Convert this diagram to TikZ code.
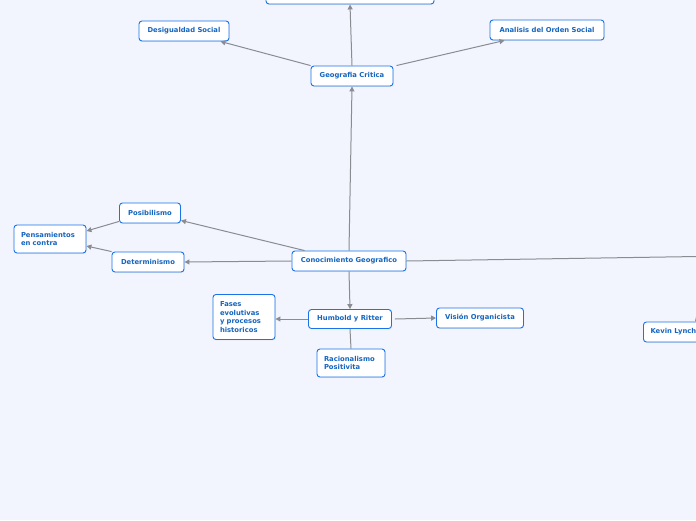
\documentclass[tikz,border=0pt]{standalone}
\usepackage{fontspec}
\setmainfont{DejaVu Sans}
\usetikzlibrary{arrows.meta,shadows}
\definecolor{mapbg}{HTML}{F2F5FE}
\definecolor{mapblue}{HTML}{1A73E8}
\definecolor{maptext}{HTML}{1565C0}
\definecolor{mapline}{HTML}{8A8C92}

\begin{document}
\begin{tikzpicture}[x=1pt, y=-1pt,
    idea/.style={draw=mapblue, fill=white, rounded corners=3pt, line width=0.9pt,
      font=\fontsize{6.8}{8.5}\selectfont\bfseries, text=maptext, inner sep=2pt,
      drop shadow={opacity=0.15, shadow xshift=0.6pt, shadow yshift=-0.8pt}},
    link/.style={draw=mapline, line width=1pt, -{Triangle[length=5pt,width=5pt]}}]
    \fill[mapbg] (0,0) rectangle (696,520);
    \useasboundingbox (0,0) rectangle (696,520);

    % top branch
    \node[idea, minimum width=168pt, minimum height=22pt] (mapa) at (350,-7) {};
    \node[idea, minimum width=90pt, minimum height=20pt] (desigualdad) at (184,31) {Desigualdad Social};
    \node[idea, minimum width=114pt, minimum height=20pt] (orden) at (547,30) {Analisis del Orden Social};
    \node[idea, minimum width=82pt, minimum height=20pt] (critica) at (352,76) {Geografia Critica};

    % centre and left side
    \node[idea, minimum width=114pt, minimum height=20pt] (conocimiento) at (349,261) {Conocimiento Geografico};
    \node[idea, minimum width=61pt, minimum height=20pt] (posibilismo) at (150,213) {Posibilismo};
    \node[idea, minimum width=72pt, minimum height=20pt] (determinismo) at (148,262) {Determinismo};
    \node[idea, text width=58pt, inner xsep=7pt, minimum height=28pt, align=left] (pensamientos) at (50,239) {Pensamientos\\en contra};

    % lower branch
    \node[idea, minimum width=83pt, minimum height=19pt] (humbold) at (350,319) {Humbold y Ritter};
    \node[idea, text width=48pt, inner xsep=7pt, minimum height=45pt, align=left] (fases) at (244,317) {Fases\\evolutivas\\y procesos\\historicos};
    \node[idea, minimum width=87pt, minimum height=20pt] (organicista) at (480,318) {Visión Organicista};
    \node[idea, text width=54pt, inner xsep=7pt, minimum height=28pt, align=left] (racionalismo) at (351,363) {Racionalismo\\Positivita};
    \node[idea, minimum width=60pt, minimum height=20pt, anchor=west] (lynch) at (643,332) {Kevin Lynch};

    \coordinate (derecha) at (730,256);
    \coordinate (lynchin) at (716,296);

    % connectors
    \draw[link] (critica.north) -- (mapa.south);
    \draw[link] (critica.north west) -- ([xshift=-9pt]desigualdad.south east);
    \draw[link] ([xshift=3pt]critica.north east) -- ([xshift=15pt]orden.south west);
    \draw[link] (conocimiento.north) -- (critica.south);
    \draw[link] ([xshift=13pt]conocimiento.north west) -- ([yshift=3pt]posibilismo.south east);
    \draw[link] (conocimiento.west) -- (determinismo.east);
    \draw[link] ([yshift=2pt]posibilismo.south west) -- ([yshift=8pt]pensamientos.east);
    \draw[link] (determinismo.north west) -- ([yshift=-7pt]pensamientos.east);
    \draw[link] (conocimiento.east) -- (derecha);
    \draw[link] (conocimiento.south) -- (humbold.north);
    \draw[link] (humbold.west) -- (fases.east |- humbold.west);
    \draw[link] ([xshift=3pt]humbold.east) -- (organicista.west);
    \draw[draw=mapline, line width=1pt] (humbold.south) -- (racionalismo.north);
    \draw[link] (lynchin) -- ([xshift=52pt]lynch.north west);
\end{tikzpicture}
\end{document}
